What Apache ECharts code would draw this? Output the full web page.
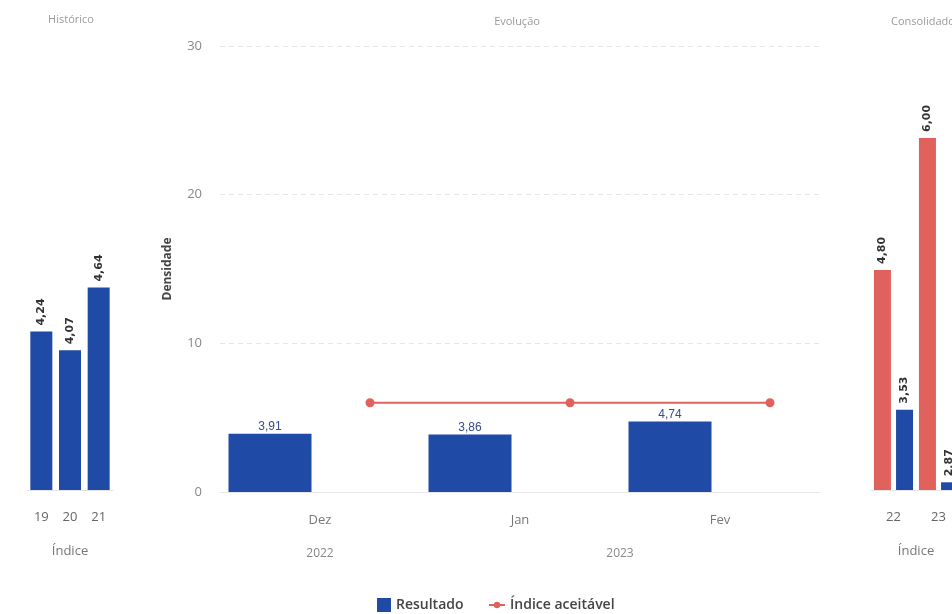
<!DOCTYPE html>
<html><head><meta charset="utf-8">
<script src="https://cdn.jsdelivr.net/npm/echarts@6/dist/echarts.min.js"></script>
<style>html,body{margin:0;padding:0;background:#fff}#c{width:952px;height:614px}</style>
</head><body><div id="c"></div>
<script>
// ---- data ----
const histCategories = ['19', '20', '21'];
const histValues = [4.24, 4.07, 4.64];

const months = ['Dez', 'Jan', 'Fev'];
const years = ['2022', '2023'];
const yearOfMonth = [0, 1, 1];           // index into years for each month
const resultado = [3.91, 3.86, 4.74];
const indiceAceitavel = [6, 6, 6];
const yTicks = [0, 10, 20, 30];

const consCategories = ['22', '23'];
const consIndice = [4.80, 6.00];
const consResultado = [3.53, 2.87];

const titles = ['Histórico', 'Evolução', 'Consolidado'];

// ---- helpers ----
const fmt = v => v.toFixed(2).replace('.', ',');
const BLUE = '#1f4aa5';
const RED = '#e1625c';
const FONT = '"Open Sans", "Noto Sans", sans-serif';

// year label positions = mean of month indices of that year
const yearPos = years.map((y, yi) => {
  const idx = yearOfMonth.map((m, i) => m === yi ? i : null).filter(v => v !== null);
  return idx.reduce((a, b) => a + b, 0) / idx.length;
});

const rotLabel = {
  show: true, position: 'top', rotate: 90, align: 'left', verticalAlign: 'middle',
  distance: 6, fontSize: 11, fontWeight: 'bold', color: '#333', fontFamily: '"DejaVu Sans", sans-serif',
  formatter: p => fmt(Array.isArray(p.value) ? p.value[1] : p.value)
};

const legendText = { fontSize: 14, fontWeight: 600, color: '#444', fontFamily: FONT };
const titleText = { fontSize: 11, color: '#9a9a9a', fontWeight: 'normal', fontFamily: FONT };

const chart = echarts.init(document.getElementById('c'));
chart.setOption({
  animation: false,
  backgroundColor: '#fff',
  textStyle: { fontFamily: FONT },
  title: [
    { text: titles[0], left: 66, top: 9, textAlign: 'center', textStyle: titleText },
    { text: titles[1], left: 512, top: 11, textAlign: 'center', textStyle: titleText },
    { text: titles[2], left: 918, top: 11, textAlign: 'center', textStyle: titleText }
  ],
  legend: [
    { left: 372, top: 593, itemWidth: 14, itemHeight: 14, textStyle: legendText,
      data: [{ name: 'Resultado', icon: 'rect' }] },
    { left: 483, top: 593, itemWidth: 16, itemHeight: 8, textStyle: legendText,
      data: [{ name: 'Índice aceitável' }] }
  ],
  grid: [
    { left: 27, top: 94, width: 86, height: 396, outerBoundsMode: 'none' },
    { left: 220, top: 46, width: 600, height: 446, outerBoundsMode: 'none' },
    { left: 871, top: 94, width: 90, height: 396, outerBoundsMode: 'none' }
  ],
  xAxis: [
    { gridIndex: 0, type: 'category', data: histCategories, position: 'bottom',
      axisLine: { lineStyle: { color: '#e4e4e4' } }, axisTick: { show: false },
      axisLabel: { fontSize: 13, color: '#666', margin: 21 },
      name: 'Índice', nameLocation: 'middle', nameGap: 55, nameTextStyle: { fontSize: 13, color: '#777' } },
    { gridIndex: 1, type: 'category', data: months, position: 'bottom',
      axisLine: { lineStyle: { color: '#e8e8e8' } }, axisTick: { show: false },
      axisLabel: { fontSize: 13, color: '#777', margin: 22 } },
    { gridIndex: 1, type: 'value', min: -0.5, max: 2.5, interval: 0.5, position: 'bottom',
      axisLine: { show: false }, axisTick: { show: false }, splitLine: { show: false },
      axisLabel: { fontSize: 12, color: '#888', margin: 56,
        formatter: v => { const k = yearPos.findIndex(p => Math.abs(p - v) < 1e-6); return k >= 0 ? years[k] : ''; } } },
    { gridIndex: 2, type: 'category', data: consCategories, position: 'bottom',
      axisLine: { lineStyle: { color: '#e4e4e4' } }, axisTick: { show: false },
      axisLabel: { fontSize: 13, color: '#666', margin: 21 },
      name: 'Índice', nameLocation: 'middle', nameGap: 55, nameTextStyle: { fontSize: 13, color: '#777' } }
  ],
  yAxis: [
    { gridIndex: 0, type: 'value', min: 2.8, max: 6.4, show: false },
    { gridIndex: 1, type: 'value', min: yTicks[0], max: yTicks[yTicks.length - 1], interval: yTicks[1] - yTicks[0],
      axisLine: { show: false }, axisTick: { show: false },
      axisLabel: { fontSize: 13, color: '#888', margin: 18 },
      splitLine: { lineStyle: { color: '#e6e6e6', type: [5, 4] } },
      name: 'Densidade', nameLocation: 'middle', nameGap: 46, nameRotate: 90,
      nameTextStyle: { fontSize: 12, fontWeight: 'bold', color: '#444' } },
    { gridIndex: 2, type: 'value', min: 2.8, max: 6.4, show: false }
  ],
  series: [
    { name: 'Resultado', type: 'bar', xAxisIndex: 2, yAxisIndex: 1, barWidth: 83,
      itemStyle: { color: BLUE },
      label: { show: true, position: 'top', distance: 1, fontSize: 12, color: '#3b4b8c', fontFamily: '"Liberation Sans", Arial, sans-serif',
        formatter: p => fmt(p.value[1]) },
      data: resultado.map((v, i) => [i - 0.25, v]) },
    { name: 'Índice aceitável', type: 'line', xAxisIndex: 2, yAxisIndex: 1,
      symbol: 'circle', symbolSize: 9, itemStyle: { color: RED }, lineStyle: { color: RED, width: 2 },
      data: indiceAceitavel.map((v, i) => [i + 0.25, v]) },
    { name: 'Resultado', type: 'bar', xAxisIndex: 0, yAxisIndex: 0, barWidth: 22,
      itemStyle: { color: BLUE }, label: rotLabel, data: histValues },
    { name: 'Índice aceitável', type: 'bar', xAxisIndex: 3, yAxisIndex: 2, barWidth: 17, barGap: '30%',
      itemStyle: { color: RED }, label: rotLabel, data: consIndice },
    { name: 'Resultado', type: 'bar', xAxisIndex: 3, yAxisIndex: 2, barWidth: 17, barGap: '30%',
      itemStyle: { color: BLUE }, label: rotLabel, data: consResultado }
  ]
});
</script>
</body></html>
